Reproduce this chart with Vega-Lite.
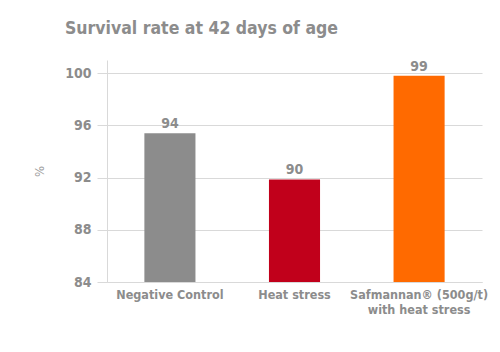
{
  "$schema": "https://vega.github.io/schema/vega-lite/v6.json",
  "autosize": "none",
  "width": 375,
  "height": 222,
  "padding": {"left": 107, "top": 60, "right": 18, "bottom": 70},
  "background": "white",
  "title": {
    "text": "Survival rate at 42 days of age",
    "anchor": "start",
    "frame": "group",
    "dx": -42,
    "offset": 22,
    "font": "DejaVu Sans Condensed",
    "fontSize": 17.5,
    "fontWeight": "bold",
    "color": "#8c8c8c"
  },
  "data": {
    "values": [
      {"group": "Negative Control", "value": 95.4, "label": "94", "color": "grey"},
      {"group": "Heat stress", "value": 91.85, "label": "90", "color": "red"},
      {"group": "Safmannan® (500g/t)|with heat stress", "value": 99.8, "label": "99", "color": "orange"}
    ]
  },
  "encoding": {
    "x": {
      "field": "group",
      "type": "nominal",
      "sort": null,
      "scale": {"paddingInner": 0.59, "paddingOuter": 0.3},
      "axis": {
        "title": null,
        "labelAngle": 0,
        "labelExpr": "split(datum.value, '|')",
        "labelFont": "DejaVu Sans Condensed",
        "labelFontSize": 12.5,
        "labelFontWeight": "bold",
        "labelColor": "#8c8c8c",
        "labelPadding": 6,
        "labelLineHeight": 15,
        "domainColor": "#d9d9d9",
        "ticks": false
      }
    },
    "y": {
      "field": "value",
      "type": "quantitative",
      "scale": {"domain": [84, 101], "nice": false, "zero": false},
      "axis": {
        "title": "%",
        "titleFont": "DejaVu Sans Condensed",
        "titleFontSize": 13,
        "titleFontWeight": "normal",
        "titleColor": "#9a9a9a",
        "titlePadding": 18,
        "values": [84, 88, 92, 96, 100],
        "labelFont": "DejaVu Sans Condensed",
        "labelFontSize": 14,
        "labelFontWeight": "bold",
        "labelColor": "#8c8c8c",
        "labelPadding": 6,
        "tickColor": "#d9d9d9",
        "tickSize": 10,
        "domainColor": "#d9d9d9",
        "gridColor": "#d9d9d9",
        "grid": true
      }
    }
  },
  "layer": [
    {
      "mark": {"type": "bar", "clip": true},
      "encoding": {
        "color": {
          "field": "color",
          "type": "nominal",
          "scale": {"domain": ["grey", "red", "orange"], "range": ["#8c8c8c", "#c1001b", "#ff6a00"]},
          "legend": null
        }
      }
    },
    {
      "mark": {
        "type": "text",
        "baseline": "bottom",
        "dy": -2,
        "font": "DejaVu Sans Condensed",
        "fontSize": 14,
        "fontWeight": "bold",
        "color": "#8c8c8c"
      },
      "encoding": {"text": {"field": "label"}}
    }
  ],
  "config": {"view": {"stroke": null}}
}
